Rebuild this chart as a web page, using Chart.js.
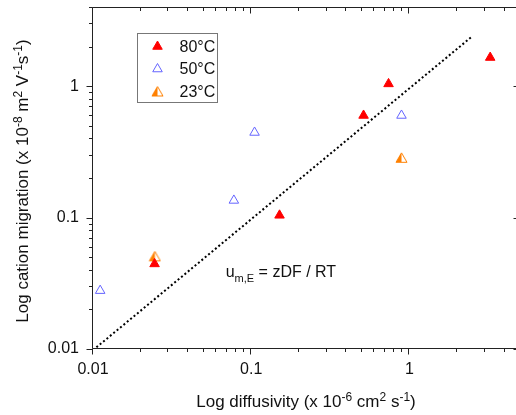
<!DOCTYPE html>
<html lang="en">
<head>
<meta charset="UTF-8">
<title>Cation migration vs diffusivity</title>
<script src="https://cdn.jsdelivr.net/npm/chart.js@4/dist/chart.umd.min.js"></script>
<style>
html, body { margin: 0; padding: 0; background: #fff; overflow: hidden; }
canvas { display: block; }
</style>
</head>
<body>
<!-- a bit wider than the window: the right frame edge sits just off-screen like the original -->
<canvas id="chart" width="527" height="415"></canvas>
<script>
// values: x = diffusivity, y = cation migration
const seriesLabels = ['80°C', '50°C', '23°C'];
const diff80 = [0.0245, 0.151, 0.513, 0.738, 3.24];
const mig80  = [0.0444, 0.104, 0.598, 1.04, 1.65];
const diff50 = [0.0111, 0.0777, 0.105, 0.891];
const mig50  = [0.0278, 0.135, 0.444, 0.598];
const diff23 = [0.0246, 0.891];
const mig23  = [0.0507, 0.285];
// u = zDF/RT guide line (dotted)
const fitX = [0.01, 2.45];
const fitY = [0.0098, 2.35];
const xTicks = [0.01, 0.1, 1];
const yTicks = [0.01, 0.1, 1];
const annotPos = { x: 0.069, y: 0.0351 };

const FONT = '"Liberation Sans", Arial, sans-serif';
const RED = '#ff0000', BLUE = '#6464ff', ORANGE = '#ff8000';

function zip(xs, ys) { return xs.map((x, i) => ({ x: x, y: ys[i] })); }

// half filled triangle for the 23 C series
function halfTriangle(color) {
    const c = document.createElement('canvas');
    c.width = 13; c.height = 12;
    const g = c.getContext('2d');
    g.beginPath(); g.moveTo(6.5, 1); g.lineTo(1, 10.5); g.lineTo(6.5, 10.5); g.closePath();
    g.fillStyle = color; g.fill();
    g.beginPath(); g.moveTo(6.5, 1); g.lineTo(12, 10.5); g.lineTo(1, 10.5); g.closePath();
    g.strokeStyle = color; g.lineWidth = 1; g.stroke();
    return c;
}
const halfTri = halfTriangle(ORANGE);

// text with super/subscripts: parts = [[text, 0|1|-1], ...]
function richWidth(ctx, parts, size) {
    let w = 0;
    parts.forEach(p => {
        ctx.font = (p[1] ? Math.round(size * 0.7) : size) + 'px ' + FONT;
        w += ctx.measureText(p[0]).width;
    });
    return w;
}
function drawRich(ctx, parts, x, y, size) {
    ctx.textAlign = 'left';
    ctx.textBaseline = 'alphabetic';
    parts.forEach(p => {
        ctx.font = (p[1] ? Math.round(size * 0.7) : size) + 'px ' + FONT;
        const dy = p[1] === 1 ? -size * 0.38 : (p[1] === -1 ? size * 0.28 : 0);
        ctx.fillText(p[0], x, y + dy);
        x += ctx.measureText(p[0]).width;
    });
}

function logMarks(min, max) {
    const out = [];
    for (let e = Math.floor(Math.log10(min)); e <= Math.ceil(Math.log10(max)); e++) {
        for (let k = 1; k <= 9; k++) {
            const v = k * Math.pow(10, e);
            if (v >= min * 0.999 && v <= max * 1.001) out.push({ v: v, major: k === 1 });
        }
    }
    return out;
}

// no extra room for overflowing tick labels
function noPad(s) { s.paddingTop = 0; s.paddingBottom = 0; s.paddingLeft = 0; s.paddingRight = 0; }

const framePlugin = {
    id: 'frame',
    afterDraw(chart) {
        const ctx = chart.ctx, ca = chart.chartArea;
        const xs = chart.scales.x, ys = chart.scales.y;
        const L = Math.round(ca.left) - 0.5, R = Math.round(ca.right) - 0.5;
        const T = Math.round(ca.top) + 0.5, B = Math.round(ca.bottom) - 0.5;
        ctx.save();
        ctx.strokeStyle = '#222';
        ctx.lineWidth = 1;
        ctx.beginPath();
        ctx.moveTo(L, T); ctx.lineTo(L, B); ctx.lineTo(R, B); ctx.lineTo(R, T); ctx.lineTo(L, T);
        ctx.stroke();
        ctx.beginPath();
        logMarks(xs.min, xs.max).forEach(m => {
            const px = Math.round(xs.getPixelForValue(m.v)) - 0.5;
            const len = m.major ? 6 : 3.5;
            ctx.moveTo(px, B); ctx.lineTo(px, B + len);   // bottom, outward
            ctx.moveTo(px, T); ctx.lineTo(px, T + len);   // top, inward
        });
        logMarks(ys.min, ys.max).forEach(m => {
            const py = Math.round(ys.getPixelForValue(m.v)) + 0.5;
            const len = m.major ? 6 : 3.5;
            ctx.moveTo(L, py); ctx.lineTo(L - len, py);   // left, outward
            ctx.moveTo(R, py); ctx.lineTo(R - len, py);   // right, inward
        });
        ctx.stroke();

        ctx.fillStyle = '#111';
        // x title
        const xt = [['Log diffusivity (x 10', 0], ['-6', 1], [' cm', 0], ['2', 1], [' s', 0], ['-1', 1], [')', 0]];
        drawRich(ctx, xt, 306 - richWidth(ctx, xt, 17) / 2, 407, 17);
        // y title
        const yt = [['Log cation migration (x 10', 0], ['-8', 1], [' m', 0], ['2', 1], [' V', 0], ['-1', 1], ['s', 0], ['-1', 1], [')', 0]];
        ctx.save();
        ctx.translate(28, 181);
        ctx.rotate(-Math.PI / 2);
        drawRich(ctx, yt, -richWidth(ctx, yt, 17) / 2, 0, 17);
        ctx.restore();
        // equation
        drawRich(ctx, [['u', 0], ['m,E', -1], [' = zDF / RT', 0]],
            xs.getPixelForValue(annotPos.x), ys.getPixelForValue(annotPos.y), 16);

        // legend box
        const bx = ca.left + 44.5, by = ca.top + 26.5;
        ctx.strokeStyle = '#777';
        ctx.strokeRect(bx, by, 80, 69);
        chart.data.datasets.slice(0, 3).forEach((ds, i) => {
            const cy = by + 13 + i * 22.5;
            ctx.fillStyle = ds.backgroundColor;
            ctx.strokeStyle = ds.borderColor;
            ctx.lineWidth = ds.borderWidth;
            Chart.helpers.drawPoint(ctx, {
                pointStyle: ds.pointStyle, radius: ds.pointRadius, rotation: 0, borderWidth: ds.borderWidth
            }, bx + 20, cy);
            ctx.fillStyle = '#111';
            ctx.font = '16px ' + FONT;
            ctx.textAlign = 'left';
            ctx.textBaseline = 'middle';
            ctx.fillText(seriesLabels[i], bx + 42, cy + 1);
        });
        ctx.restore();
    }
};

new Chart(document.getElementById('chart'), {
    type: 'scatter',
    data: {
        datasets: [
            { label: seriesLabels[0], data: zip(diff80, mig80), pointStyle: 'triangle', pointRadius: 5.5,
              backgroundColor: RED, borderColor: RED, borderWidth: 1 },
            { label: seriesLabels[1], data: zip(diff50, mig50), pointStyle: 'triangle', pointRadius: 5.5,
              backgroundColor: 'rgba(0,0,0,0)', borderColor: BLUE, borderWidth: 1 },
            { label: seriesLabels[2], data: zip(diff23, mig23), pointStyle: halfTri, pointRadius: 6,
              backgroundColor: ORANGE, borderColor: ORANGE, borderWidth: 1 },
            { label: 'fit', data: zip(fitX, fitY), showLine: true, pointRadius: 0,
              borderColor: '#000', borderWidth: 2, borderDash: [2, 2.4] }
        ]
    },
    options: {
        responsive: false,
        devicePixelRatio: 1,
        animation: false,
        layout: { padding: { top: 6, right: 1, left: 0, bottom: 0 } },
        plugins: { legend: { display: false }, tooltip: { enabled: false } },
        scales: {
            x: {
                type: 'logarithmic', min: 0.01, max: 5,
                afterBuildTicks: s => { s.ticks = xTicks.map(v => ({ value: v })); },
                afterFit: s => { s.height = 66; noPad(s); },
                ticks: { callback: v => String(v), font: { size: 16, family: FONT }, color: '#111', padding: 11, maxRotation: 0 },
                grid: { display: false, drawTicks: false },
                border: { display: false }
            },
            y: {
                type: 'logarithmic', min: 0.01, max: 4,
                afterBuildTicks: s => { s.ticks = yTicks.map(v => ({ value: v })); },
                afterFit: s => { s.width = 93; noPad(s); },
                ticks: { callback: v => String(v), font: { size: 16, family: FONT }, color: '#111', padding: 14 },
                grid: { display: false, drawTicks: false },
                border: { display: false }
            }
        }
    },
    plugins: [framePlugin]
});
</script>
</body>
</html>
